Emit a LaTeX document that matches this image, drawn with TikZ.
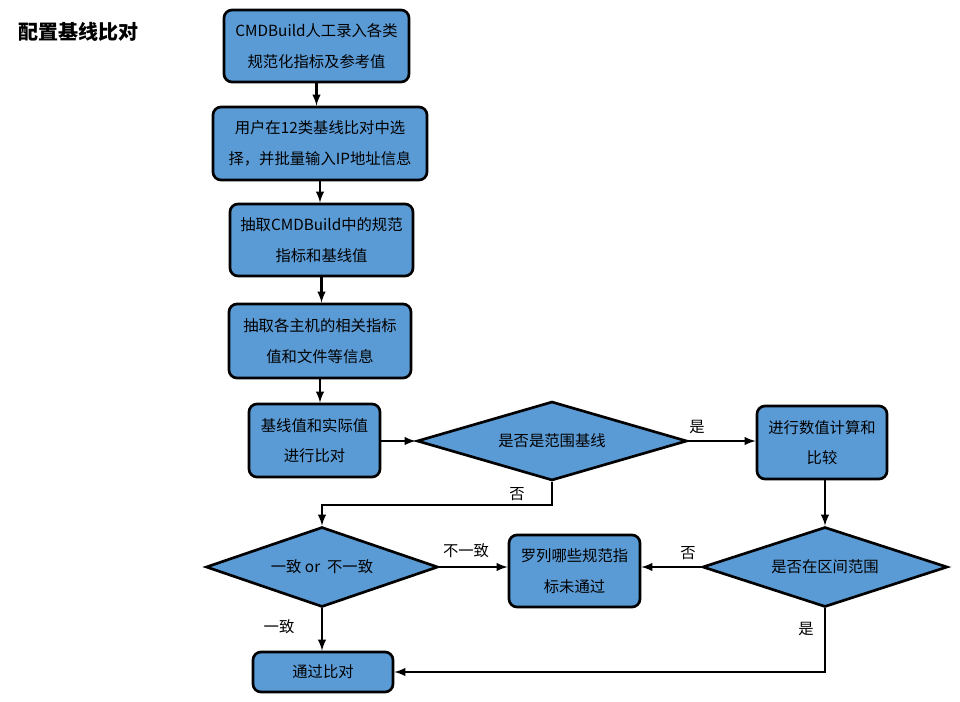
\documentclass[tikz,border=0pt]{standalone}
\usepackage{fontspec}
\setmainfont{Noto Sans CJK SC}
\usepackage{tikz}
\usetikzlibrary{calc}
\usetikzlibrary{shapes}
\usetikzlibrary{arrows}

\definecolor{boxblue}{HTML}{5B9BD5}

\tikzset{
    stepbox/.style={draw, line width=2pt, fill=boxblue, rounded corners=6pt,
        align=center, inner sep=0pt, font=\fontsize{11.5}{23}\selectfont},
    choice/.style={draw, diamond, line width=2pt, fill=boxblue, inner sep=0pt,
        aspect=3, font=\fontsize{11.5}{14}\selectfont},
    flow/.style={-latex, line width=1.8pt},
    tag/.style={font=\fontsize{11.5}{14}\selectfont}
}

\begin{document}
\begin{tikzpicture}[x=0.75pt, y=-0.75pt]

    \useasboundingbox (0,0) rectangle (960,702);

    \node (title) at (78,32) {\fontsize{15}{18}\selectfont\bfseries 配置基线比对};

    \node (entry) at (316.5,46) [stepbox, minimum width=138.75pt, minimum height=54pt]
        {CMDBuild人工录入各类\\规范化指标及参考值};
    \node (select) at (320,143.5) [stepbox, minimum width=160.5pt, minimum height=54.75pt]
        {用户在12类基线比对中选\\择，并批量输入IP地址信息};
    \node (fetchcmdb) at (321.5,240) [stepbox, minimum width=137.25pt, minimum height=54pt]
        {抽取CMDBuild中的规范\\指标和基线值};
    \node (fetchhost) at (320,341) [stepbox, minimum width=136.5pt, minimum height=55.5pt]
        {抽取各主机的相关指标\\值和文件等信息};
    \node (compare) at (314.5,440.5) [stepbox, minimum width=98.25pt, minimum height=54.75pt]
        {基线值和实际值\\进行比对};
    \node (isrange) at (552,441) [choice, minimum width=202.5pt, minimum height=59.25pt]
        {是否是范围基线};
    \node (calc) at (822,442.5) [stepbox, minimum width=97.5pt, minimum height=54.75pt]
        {进行数值计算和\\比较};
    \node (same) at (322,567) [choice, minimum width=174pt, minimum height=60pt]
        {一致 or \ 不一致};
    \node (list) at (574.5,571) [stepbox, minimum width=98.25pt, minimum height=54pt]
        {罗列哪些规范指\\标未通过};
    \node (inrange) at (825,567) [choice, minimum width=183.75pt, minimum height=60pt]
        {是否在区间范围};
    \node (pass) at (323,672) [stepbox, minimum width=105pt, minimum height=30pt]
        {通过比对};

    \draw [flow] (entry.south) -- (entry.south |- select.north);
    \draw [flow] (select.south) -- (select.south |- fetchcmdb.north);
    \draw [flow] (fetchcmdb.south) -- (fetchcmdb.south |- fetchhost.north);
    \draw [flow] (fetchhost.south) -- (fetchhost.south |- compare.north);
    \draw [flow] (compare.east |- isrange) -- (isrange.west);
    \draw [flow] (isrange.east) -- (calc.west |- isrange.east);
    \draw [flow] (isrange.south) -- (isrange.south |- 0,505) -| (same.north);
    \draw [flow] (calc.south -| inrange.north) -- (inrange.north);
    \draw [flow] (same.east) -- (list.west |- same.east);
    \draw [flow] (inrange.west) -- (list.east |- inrange.west);
    \draw [flow] (same.south) -- (pass.north -| same.south);
    \draw [flow] (inrange.south) |- (pass.east);

    \node at (697,427) [tag] {是};
    \node at (517,494) [tag] {否};
    \node at (466,551) [tag] {不一致};
    \node at (688,553) [tag] {否};
    \node at (279,627) [tag] {一致};
    \node at (806,629) [tag] {是};

\end{tikzpicture}
\end{document}
